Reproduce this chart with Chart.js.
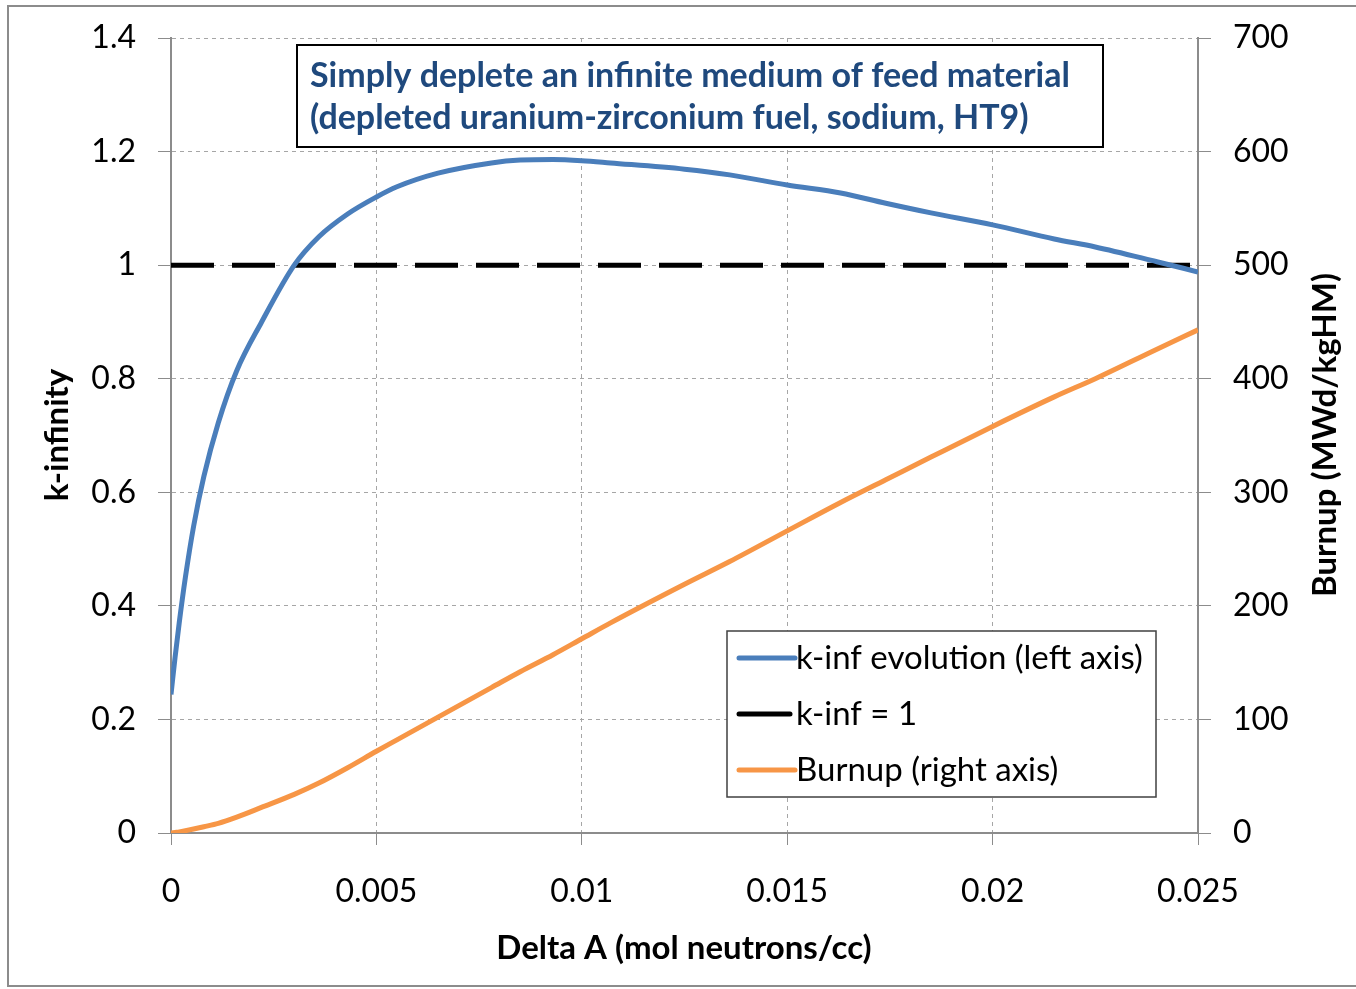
<!DOCTYPE html>
<html>
<head>
<meta charset="utf-8">
<script src="https://cdn.jsdelivr.net/npm/chart.js@4.4.1/dist/chart.umd.min.js"></script>
<style>
  html, body { margin: 0; padding: 0; background: #fff; }
  #wrap { position: relative; width: 1356px; height: 989px; }
</style>
</head>
<body>
<div id="wrap"><canvas id="c" width="1356" height="989"></canvas></div>
<script>
// Delta A (mol neutrons/cc)
const deltaA = [0, 0.0001, 0.0002, 0.00035, 0.00055, 0.0008, 0.00115, 0.0016, 0.0022, 0.003, 0.0036,
  0.0043, 0.005, 0.0055, 0.0065, 0.0078, 0.0085, 0.0093, 0.01, 0.0107, 0.0125,
  0.0136, 0.015, 0.0163, 0.0174, 0.0185, 0.02, 0.0215, 0.0225, 0.024, 0.025];
// k-infinity (left axis)
const kinf = [0.244, 0.31, 0.37, 0.45, 0.54, 0.628, 0.722, 0.814, 0.899, 1.0, 1.05,
  1.09, 1.12, 1.138, 1.162, 1.180, 1.185, 1.186, 1.184, 1.180, 1.169,
  1.159, 1.141, 1.127, 1.109, 1.092, 1.071, 1.046, 1.032, 1.006, 0.988];
// burnup MWd/kgHM (right axis)
const burnup = [0, 0.5, 1, 2, 3.5, 5.5, 8.5, 14, 22.5, 34, 44,
  57.5, 72, 82, 102, 128, 142, 157, 171, 185, 219,
  239, 266, 291, 311, 331, 358, 384, 400, 426, 443];
// k-inf = 1 reference line
const critX = [0, 0.025];
const critY = [1, 1];

const seriesNames = ['k-inf evolution (left axis)', 'k-inf = 1', 'Burnup (right axis)'];
const seriesColors = ['#4a7ebb', '#000000', '#f79646'];
const titleLines = ['Simply deplete an infinite medium of feed material',
  '(depleted uranium-zirconium fuel, sodium, HT9)'];

const FONT = 'Lato, "Open Sans", sans-serif';
const gridCol = '#a6a6a6';
const axisCol = '#8c8c8c';

function pts(xs, ys) {
  return xs.map((x, i) => ({ x: x, y: ys[i] }));
}

// fixed axis sizes so the plot area sits where the original one does
function fixY(width) {
  return s => {
    s.width = width;
    s.paddingTop = 0;
    s.paddingBottom = 0;
  };
}

const overlay = {
  id: 'overlay',
  afterDraw(chart) {
    const ctx = chart.ctx;
    ctx.save();
    // outer frame
    ctx.strokeStyle = '#8c8c8c';
    ctx.lineWidth = 2;
    ctx.strokeRect(8, 6, 1360, 980);

    // title box
    ctx.fillStyle = '#fff';
    ctx.fillRect(297, 45, 806, 102);
    ctx.strokeStyle = '#000';
    ctx.lineWidth = 2;
    ctx.strokeRect(297, 45, 806, 102);
    ctx.fillStyle = '#1f497d';
    ctx.font = 'bold 34px ' + FONT;
    ctx.textBaseline = 'middle';
    ctx.textAlign = 'left';
    ctx.fillText(titleLines[0], 310, 76);
    ctx.fillText(titleLines[1], 310, 118);

    // legend
    ctx.fillStyle = '#fff';
    ctx.fillRect(727, 631, 429, 166);
    ctx.strokeStyle = '#404040';
    ctx.lineWidth = 1.5;
    ctx.strokeRect(727, 631, 429, 166);
    ctx.font = '33px ' + FONT;
    ctx.fillStyle = '#000';
    seriesNames.forEach((name, i) => {
      const y = 658 + i * 56;
      ctx.strokeStyle = seriesColors[i];
      ctx.lineWidth = 5;
      ctx.lineCap = 'round';
      ctx.beginPath();
      ctx.moveTo(739, y);
      ctx.lineTo(i === 1 ? 790 : 795, y);
      ctx.stroke();
      ctx.fillText(name, 796, y);
    });

    // axis titles
    ctx.font = 'bold 33px ' + FONT;
    ctx.fillStyle = '#000';
    ctx.textAlign = 'center';
    ctx.fillText('Delta A (mol neutrons/cc)', 684, 948);
    ctx.save();
    ctx.translate(57, 435);
    ctx.rotate(-Math.PI / 2);
    ctx.fillText('k-infinity', 0, 0);
    ctx.restore();
    ctx.save();
    ctx.translate(1325, 435);
    ctx.rotate(-Math.PI / 2);
    ctx.fillText('Burnup (MWd/kgHM)', 0, 0);
    ctx.restore();
    ctx.restore();
  }
};

new Chart(document.getElementById('c'), {
  type: 'line',
  data: {
    datasets: [
      { label: seriesNames[0], data: pts(deltaA, kinf), yAxisID: 'y',
        borderColor: seriesColors[0], borderWidth: 5, pointRadius: 0, cubicInterpolationMode: 'monotone' },
      { label: seriesNames[1], data: pts(critX, critY), yAxisID: 'y',
        borderColor: seriesColors[1], borderWidth: 5, pointRadius: 0, borderDash: [43, 18] },
      { label: seriesNames[2], data: pts(deltaA, burnup), yAxisID: 'y2',
        borderColor: seriesColors[2], borderWidth: 5, pointRadius: 0, cubicInterpolationMode: 'monotone' }
    ]
  },
  options: {
    responsive: false,
    animation: false,
    layout: { padding: { top: 38, left: 0, right: 0, bottom: 0 } },
    plugins: { legend: { display: false }, tooltip: { enabled: false } },
    scales: {
      x: {
        type: 'linear', min: 0, max: 0.025,
        afterFit: s => { s.height = 156; },
        ticks: { stepSize: 0.005, color: '#000', font: { family: FONT, size: 32 }, padding: 27,
          maxRotation: 0, callback: v => Number(v.toFixed(3)).toString() },
        grid: { color: gridCol, borderDash: [4, 4], tickLength: 12, tickColor: axisCol, tickBorderDash: [] },
        border: { color: axisCol, width: 2, dash: [4, 4] }
      },
      y: {
        position: 'left', min: 0, max: 1.4,
        afterFit: fixY(171),
        ticks: { stepSize: 0.2, color: '#000', font: { family: FONT, size: 32 }, padding: 22,
          callback: v => Number(v.toFixed(1)).toString() },
        grid: { color: gridCol, borderDash: [4, 4], tickLength: 13, tickColor: axisCol, tickBorderDash: [] },
        border: { color: axisCol, width: 2, dash: [4, 4] }
      },
      y2: {
        position: 'right', min: 0, max: 700,
        afterFit: fixY(158),
        ticks: { stepSize: 100, color: '#000', font: { family: FONT, size: 32 }, padding: 22 },
        grid: { drawOnChartArea: false, tickLength: 13, tickColor: axisCol, tickBorderDash: [] },
        border: { color: axisCol, width: 2 }
      }
    }
  },
  plugins: [overlay]
});
</script>
</body>
</html>
